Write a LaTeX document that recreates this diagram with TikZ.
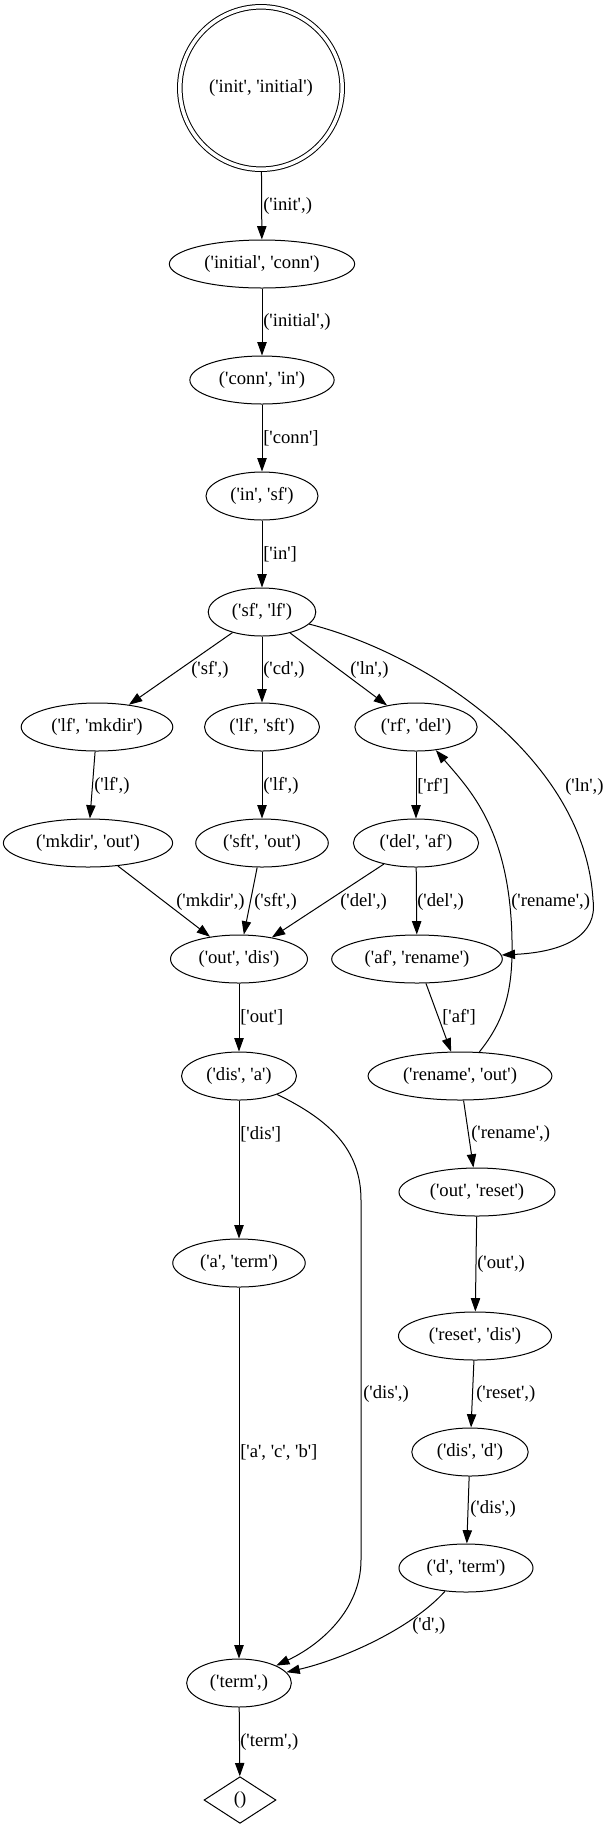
\documentclass[tikz,border=0pt]{standalone}
\usepackage{fontspec}
\setmainfont{Liberation Serif}[Ligatures=TeXOff]
\usetikzlibrary{arrows.meta,shapes.geometric}
\begin{document}
\begin{tikzpicture}[x=0.75pt, y=-0.75pt,
        every node/.style={font=\fontsize{14}{16}\selectfont},
        state/.style={draw, ellipse, line width=0.75pt, minimum height=36pt, inner xsep=6pt, inner ysep=0pt},
        lbl/.style={anchor=west, inner sep=0pt},
        edge/.style={line width=0.75pt, -{Triangle[length=10pt, width=7pt]}}]
            \useasboundingbox (0,0) rectangle (605,1829);
            \node[draw, circle, double, double distance=2.65pt, line width=0.75pt, minimum size=121.8pt, inner sep=0pt] (v0) at (261,88) {('init', 'initial')};
            \node[state] (v1) at (262,264) {('initial', 'conn')};
            \node[state] (v2) at (262,380) {('conn', 'in')};
            \node[state] (v3) at (262,496) {('in', 'sf')};
            \node[state] (v4) at (262,612) {('sf', 'lf')};
            \node[state] (v5) at (97,727) {('lf', 'mkdir')};
            \node[state] (v6) at (262,727) {('lf', 'sft')};
            \node[state] (v7) at (416,727) {('rf', 'del')};
            \node[state] (v8) at (88,843) {('mkdir', 'out')};
            \node[state] (v9) at (262,843) {('sft', 'out')};
            \node[state] (v10) at (416,843) {('del', 'af')};
            \node[state] (v11) at (239,959) {('out', 'dis')};
            \node[state] (v12) at (417,959) {('af', 'rename')};
            \node[state] (v13) at (239,1076) {('dis', 'a')};
            \node[state] (v14) at (460,1076) {('rename', 'out')};
            \node[state] (v15) at (477,1192) {('out', 'reset')};
            \node[state] (v16) at (239,1263) {('a', 'term')};
            \node[state] (v17) at (475,1336) {('reset', 'dis')};
            \node[state] (v18) at (470,1452) {('dis', 'd')};
            \node[state] (v19) at (466,1568) {('d', 'term')};
            \node[state] (v20) at (239,1683) {('term',)};
            \node[draw, diamond, line width=0.75pt, minimum width=54pt, minimum height=35pt, inner sep=0pt] (v21) at (240,1800) {()};
            % edge labels
            \node[lbl] (l0) at (263,206) {('init',)};
            \node[lbl] (l1) at (263,322) {('initial',)};
            \node[lbl] (l2) at (263,438) {['conn']};
            \node[lbl] (l3) at (263,554) {['in']};
            \node[lbl] (l4) at (191,670) {('sf',)};
            \node[lbl] (l5) at (263,670) {('cd',)};
            \node[lbl] (l6) at (350,670) {('ln',)};
            \node[lbl] (l7) at (94,786) {('lf',)};
            \node[lbl] (l8) at (263,786) {('lf',)};
            \node[lbl] (l9) at (417,786) {['rf']};
            \node[lbl] (l10) at (565,787) {('ln',)};
            \node[lbl] (l11) at (176,902) {('mkdir',)};
            \node[lbl] (l12) at (254,902) {('sft',)};
            \node[lbl] (l13) at (340,902) {('del',)};
            \node[lbl] (l14) at (417,902) {('del',)};
            \node[lbl] (l15) at (511,902) {('rename',)};
            \node[lbl] (l16) at (240,1017) {['out']};
            \node[lbl] (l17) at (442,1017) {['af']};
            \node[lbl] (l18) at (240,1134) {['dis']};
            \node[lbl] (l19) at (471,1134) {('rename',)};
            \node[lbl] (l20) at (477,1264) {('out',)};
            \node[lbl] (l21) at (363,1394) {('dis',)};
            \node[lbl] (l22) at (476,1394) {('reset',)};
            \node[lbl] (l23) at (240,1452) {['a', 'c', 'b']};
            \node[lbl] (l24) at (470,1509) {('dis',)};
            \node[lbl] (l25) at (412,1626) {('d',)};
            \node[lbl] (l26) at (240,1742) {('term',)};
            % edges
            \draw[edge, shorten <=1.8pt] (v0) -- (v1);
            \draw[edge] (v1) -- (v2);
            \draw[edge] (v2) -- (v3);
            \draw[edge] (v3) -- (v4);
            \draw[edge] (v4) -- (v5);
            \draw[edge] (v4) -- (v6);
            \draw[edge] (v4) -- (v7);
            \draw[edge] (v4) .. controls (430,655) and (585,760) .. (593,900) .. controls (598,935) and (565,952) .. (v12);
            \draw[edge] (v5) -- (v8);
            \draw[edge] (v6) -- (v9);
            \draw[edge] (v7) -- (v10);
            \draw[edge] (v8) -- (v11);
            \draw[edge] (v9) -- (v11);
            \draw[edge] (v10) -- (v11);
            \draw[edge] (v10) -- (v12);
            \draw[edge] (v14) .. controls (505,1020) and (513,990) .. (512,940) .. controls (510,830) and (470,790) .. (v7);
            \draw[edge] (v11) -- (v13);
            \draw[edge] (v12) -- (v14);
            \draw[edge] (v13) -- (v16);
            \draw[edge] (v13) .. controls (330,1120) and (361,1150) .. (361,1200) -- (361,1560) .. controls (361,1610) and (320,1645) .. (v20);
            \draw[edge] (v14) -- (v15);
            \draw[edge] (v15) -- (v17);
            \draw[edge] (v16) -- (v20);
            \draw[edge] (v17) -- (v18);
            \draw[edge] (v18) -- (v19);
            \draw[edge] (v19) .. controls (410,1630) and (340,1660) .. (v20);
            \draw[edge] (v20) -- (v21);
\end{tikzpicture}
\end{document}
